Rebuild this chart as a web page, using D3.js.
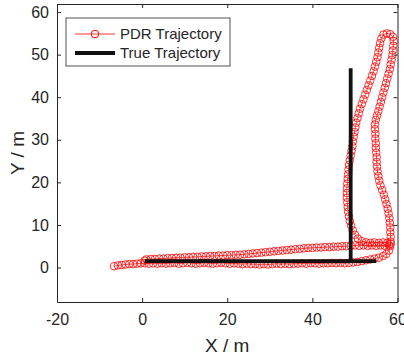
<!DOCTYPE html>
<html>
<head>
<meta charset="utf-8">
<script src="https://cdn.jsdelivr.net/npm/d3@7"></script>
<style>
  body { margin: 0; background: #fff; }
  svg { display: block; font-family: Arial, "Liberation Sans", Helvetica, sans-serif; }
</style>
</head>
<body>
<div id="chart"></div>
<script>
// PDR vs true trajectory – MATLAB-style plot

const xTicks = [-20, 0, 20, 40, 60];
const yTicks = [0, 10, 20, 30, 40, 50, 60];
const xDomain = [-20, 60];
const yDomain = [-8.1, 61.9];

// PDR estimate, walked as legs
const pdrEastLow = [
  [-6.6,0.3],[-5.7,0.5],[-4.8,0.6],[-3.9,0.7],[-3.0,0.8],[-2.1,0.8],[-1.2,0.9],[-0.3,1.0],
  [0.6,1.0],[1.6,0.9],[2.6,1.0],[3.6,0.9],[4.6,1.0],[5.6,0.9],[6.6,1.0],[7.6,1.1],[8.6,0.9],
  [9.6,1.0],[10.6,1.1],[11.6,1.0],[12.6,0.9],[13.6,1.0],[14.6,1.1],[15.6,1.0],[16.6,0.9],
  [17.6,1.0],[18.6,1.1],[19.6,1.0],[20.6,0.9],[21.6,1.0],[22.6,0.9],[23.6,0.8],[24.6,0.9],
  [25.6,0.8],[26.6,0.8],[27.6,0.7],[28.6,0.8],[29.6,0.7],[30.6,0.8],[31.6,0.9],[32.6,0.8],
  [33.6,0.9],[34.6,0.8],[35.6,0.9],[36.6,0.9],[37.6,1.0],[38.6,0.9],[39.6,1.0],[40.6,1.0],
  [41.6,0.9],[42.6,1.0],[43.6,1.0],[44.6,1.1],[45.6,1.0],[46.6,1.1],[47.6,1.0],[48.6,1.1],
  [49.6,1.2],[50.6,1.3],[51.6,1.5],[52.6,1.7],[53.6,1.9],[54.6,2.1],[55.6,2.3],[56.6,2.7],
  [57.4,3.2],[58.0,4.0]
];
const pdrNorth = [
  [58.3,5.0],[58.4,6.1],[58.4,7.2],[58.3,8.3],[58.3,9.4],[58.2,10.5],[58.1,11.6],[57.9,12.7],
  [57.7,13.8],[57.4,14.9],[57.1,16.0],[56.8,17.1],[56.4,18.2],[56.0,19.3],[55.7,20.4],
  [55.5,21.5],[55.3,22.6],[55.2,23.7],[55.1,24.8],[55.1,25.9],[55.0,27.0],[54.9,28.1],
  [54.9,29.2],[54.8,30.3],[54.8,31.4],[54.7,32.5],[54.7,33.6],[54.9,34.7],[55.2,35.7],
  [55.5,36.7],[55.8,37.8],[56.1,38.9],[56.4,40.0],[56.7,41.1],[57.0,42.2],[57.3,43.3],
  [57.6,44.4],[57.9,45.5],[58.2,46.6],[58.4,47.7],[58.6,48.8],[58.8,49.9],[58.9,51.0],
  [59.0,52.1],[59.1,53.2],[58.9,54.2],[58.3,54.8],[57.5,55.0],[56.7,54.7]
];
const pdrSouth = [
  [56.2,53.8],[55.9,52.7],[55.7,51.6],[55.5,50.5],[55.3,49.4],[55.0,48.3],[54.7,47.2],
  [54.4,46.1],[54.0,45.0],[53.6,43.9],[53.2,42.8],[52.8,41.7],[52.4,40.6],[52.0,39.5],
  [51.6,38.4],[51.2,37.3],[50.9,36.2],[50.6,35.1],[50.3,34.0],[50.1,32.9],[49.9,31.8],
  [49.7,30.7],[49.5,29.6],[49.4,28.5],[49.2,27.4],[49.0,26.3],[48.8,25.2],[48.6,24.1],
  [48.5,23.0],[48.4,21.9],[48.3,20.8],[48.2,19.7],[48.1,18.6],[48.1,17.5],[48.1,16.4],
  [48.2,15.3],[48.3,14.2],[48.4,13.1],[48.6,12.0],[48.8,10.9],[49.1,9.8],[49.5,8.7],
  [50.0,7.7],[50.7,6.8],[51.6,6.2]
];
const pdrEndLoop = [
  [52.6,5.9],[53.6,5.8],[54.6,5.9],[55.6,5.8],[56.6,5.9],[57.6,5.8],[58.4,5.6],[58.0,5.2],
  [57.0,5.1],[56.0,5.2],[55.0,5.1],[54.0,5.2],[53.0,5.1],[52.0,5.2],[51.0,5.1],[50.0,5.2],
  [49.0,5.1]
];
const pdrWestHigh = [
  [48,5.0],[47,5.0],[46,4.9],[45,4.9],[44,4.8],[43,4.8],[42,4.7],[41,4.7],[40,4.6],[39,4.6],
  [38,4.5],[37,4.4],[36,4.3],[35,4.2],[34,4.1],[33,4.0],[32,3.9],[31,3.8],[30,3.7],[29,3.6],
  [28,3.5],[27,3.4],[26,3.3],[25,3.2],[24,3.1],[23,3.0],[22,3.0],[21,2.9],[20,2.9],[19,2.8],
  [18,2.8],[17,2.7],[16,2.7],[15,2.6],[14,2.6],[13,2.5],[12,2.5],[11,2.4],[10,2.4],[9,2.3],
  [8,2.3],[7,2.2],[6,2.2],[5,2.1],[4,2.1],[3,2.0],[2,2.0],[1,1.9],[0.6,1.6]
];
const pdr = [].concat(pdrEastLow, pdrNorth, pdrSouth, pdrEndLoop, pdrWestHigh);

// ground truth L-shaped corridor
const truth = [[0.6,1.5],[49,1.5],[49,46.8],[49,1.5],[55,1.5]];

const legendItems = ['PDR Trajectory', 'True Trajectory'];

const W = 404, H = 359;
const margin = { top: 4, right: 6.5, bottom: 57, left: 57 };
const iw = W - margin.left - margin.right;
const ih = H - margin.top - margin.bottom;
const axisCol = '#262626';
const red = '#ff0000';

const svg = d3.select('#chart').append('svg')
  .attr('width', W)
  .attr('height', H);

const g = svg.append('g').attr('transform', `translate(${margin.left},${margin.top})`);

const x = d3.scaleLinear().domain(xDomain).range([0, iw]);
const y = d3.scaleLinear().domain(yDomain).range([ih, 0]);

svg.append('defs').append('clipPath').attr('id', 'clip')
  .append('rect').attr('width', iw).attr('height', ih);

const plot = g.append('g').attr('clip-path', 'url(#clip)');

const line = d3.line().x(d => x(d[0])).y(d => y(d[1]));

plot.append('path')
  .datum(pdr)
  .attr('d', line)
  .attr('fill', 'none')
  .attr('stroke', red)
  .attr('stroke-width', 0.7);

plot.append('g')
  .selectAll('circle')
  .data(pdr)
  .enter().append('circle')
  .attr('cx', d => x(d[0]))
  .attr('cy', d => y(d[1]))
  .attr('r', 3.8)
  .attr('fill', 'none')
  .attr('stroke', red)
  .attr('stroke-width', 1)
  .attr('stroke-opacity', 0.8);

plot.append('path')
  .datum(truth)
  .attr('d', line)
  .attr('fill', 'none')
  .attr('stroke', '#111')
  .attr('stroke-width', 3.8)
  .attr('stroke-linejoin', 'miter');

// axes, MATLAB box with inward ticks
const fmt = d => String(d); // plain hyphen minus like MATLAB

function styleAxis(sel) {
  sel.select('.domain').attr('stroke', axisCol).attr('stroke-width', 1);
  sel.selectAll('.tick line').attr('stroke', axisCol);
  sel.selectAll('.tick text').attr('fill', axisCol).attr('font-size', 16)
    .attr('font-family', 'Arial, "Liberation Sans", Helvetica, sans-serif');
}

g.append('g')
  .attr('transform', `translate(0,${ih})`)
  .call(d3.axisBottom(x).tickValues(xTicks).tickFormat(fmt).tickSizeInner(-4).tickSizeOuter(0).tickPadding(12))
  .call(styleAxis);

g.append('g')
  .call(d3.axisTop(x).tickValues(xTicks).tickSizeInner(-4).tickSizeOuter(0).tickFormat(''))
  .call(styleAxis);

g.append('g')
  .call(d3.axisLeft(y).tickValues(yTicks).tickFormat(fmt).tickSizeInner(-4).tickSizeOuter(0).tickPadding(8))
  .call(styleAxis);

g.append('g')
  .attr('transform', `translate(${iw},0)`)
  .call(d3.axisRight(y).tickValues(yTicks).tickSizeInner(-4).tickSizeOuter(0).tickFormat(''))
  .call(styleAxis);

svg.append('text')
  .attr('x', margin.left + iw / 2)
  .attr('y', 352)
  .attr('text-anchor', 'middle')
  .attr('font-size', 19)
  .attr('fill', axisCol)
  .text('X / m');

svg.append('text')
  .attr('transform', `translate(24,${margin.top + ih / 2}) rotate(-90)`)
  .attr('text-anchor', 'middle')
  .attr('font-size', 19)
  .attr('fill', axisCol)
  .text('Y / m');

// legend
const leg = svg.append('g').attr('transform', 'translate(66,18)');
leg.append('rect')
  .attr('width', 164).attr('height', 48)
  .attr('fill', '#fff').attr('stroke', axisCol).attr('stroke-width', 0.8);

const rows = leg.selectAll('g.row')
  .data(legendItems)
  .enter().append('g')
  .attr('class', 'row')
  .attr('transform', (d, i) => `translate(0,${16 + i * 19})`);

rows.append('line')
  .attr('x1', 9).attr('x2', 49)
  .attr('stroke', (d, i) => i === 0 ? red : '#111')
  .attr('stroke-width', (d, i) => i === 0 ? 0.8 : 3.8);

rows.filter((d, i) => i === 0).append('circle')
  .attr('cx', 29).attr('r', 3.8)
  .attr('fill', 'none').attr('stroke', red).attr('stroke-width', 1);

rows.append('text')
  .attr('x', 54).attr('dy', '0.35em')
  .attr('font-size', 15)
  .attr('fill', axisCol)
  .text(d => d);
</script>
</body>
</html>
